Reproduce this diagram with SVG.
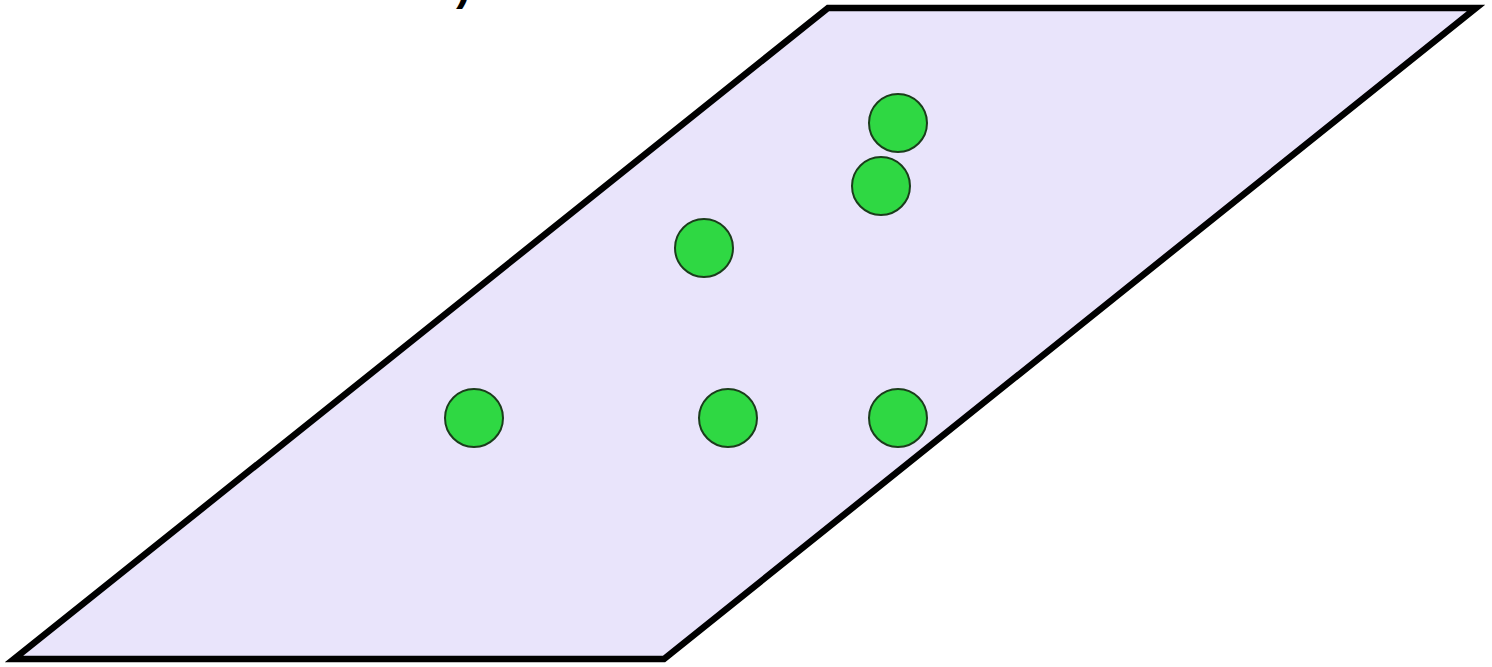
<svg xmlns="http://www.w3.org/2000/svg" width="1492" height="667" viewBox="0 0 1492 667">
<style>
.plane{fill:#e9e4fb;stroke:#000;stroke-width:6.5;stroke-linejoin:miter}
.pt{fill:#2fd843;stroke:#1b3d1b;stroke-width:2}
.lbl{font-family:"Liberation Sans",Arial,sans-serif;font-size:44px;font-weight:bold;fill:#000}
</style>
<rect width="1492" height="667" fill="#fff"/>
<text class="lbl" x="456" y="0">)</text>
<g id="plane"><polygon class="plane" points="828,8 1476,8 664,659 14,659"/></g>
<g id="p1"><circle class="pt" cx="898" cy="123" r="29"/></g>
<g id="p2"><circle class="pt" cx="881" cy="186" r="29"/></g>
<g id="p3"><circle class="pt" cx="704" cy="248" r="29"/></g>
<g id="p4"><circle class="pt" cx="474" cy="418" r="29"/></g>
<g id="p5"><circle class="pt" cx="728" cy="418" r="29"/></g>
<g id="p6"><circle class="pt" cx="898" cy="418" r="29"/></g>
<g id="connectors"></g>
</svg>
